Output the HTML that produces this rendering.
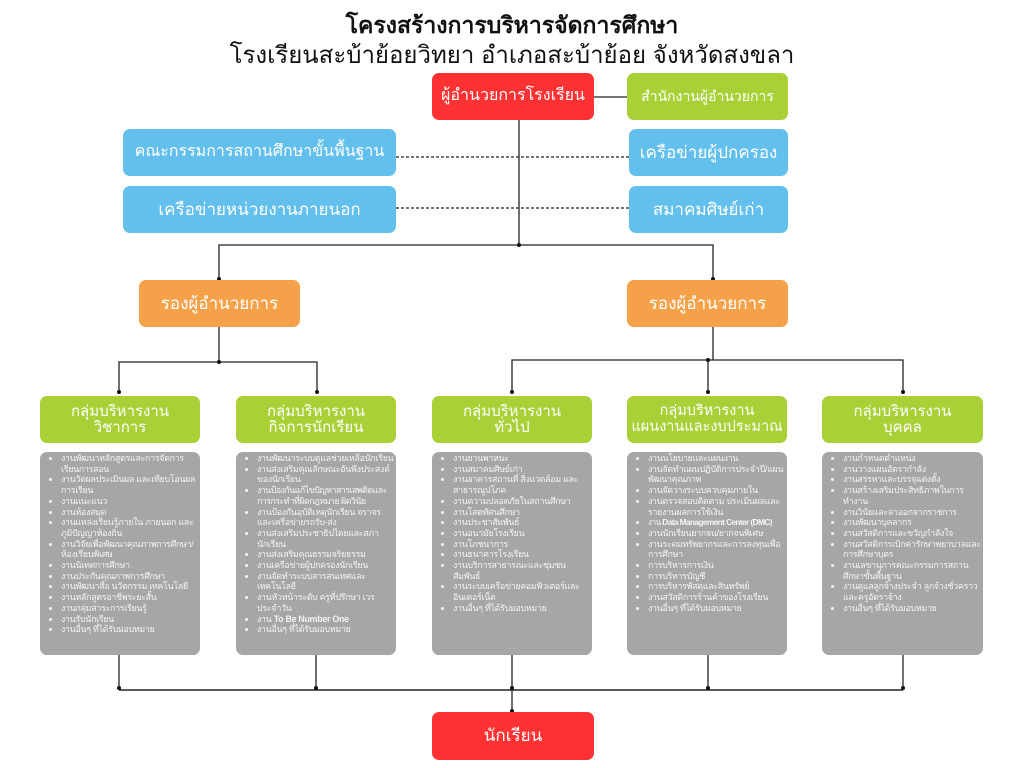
<!DOCTYPE html>
<html><head><meta charset="utf-8"><style>
*{margin:0;padding:0;box-sizing:border-box}
body{width:1024px;height:768px;background:#fff;position:relative;overflow:hidden;font-family:"Liberation Sans","DejaVu Sans",sans-serif}
.b{position:absolute;display:flex;align-items:center;justify-content:center;text-align:center;color:#fff;border-radius:7px;line-height:1.05}
.red{background:#fe3233}.grn{background:#a9d137}.blu{background:#63bfeb}.org{background:#f4a14a}
.g{position:absolute;background:#a6a6a6;border-radius:7px;color:#f4f4f4;font-size:8.8px;line-height:10.7px;padding:1px 2px 0 3px;letter-spacing:-0.25px}
.g ul{list-style:none}
.g li{position:relative;padding-left:18px}
.g li:before{content:"";position:absolute;left:6px;top:4px;width:3px;height:3px;border-radius:50%;background:#f2f2f2}
.t{position:absolute;left:0;width:1024px;text-align:center;color:#111}
</style></head><body>
<div class="t" style="top:8px;font-size:23px;font-weight:bold">โครงสร้างการบริหารจัดการศึกษา</div>
<div class="t" style="top:35px;font-size:24px">โรงเรียนสะบ้าย้อยวิทยา อำเภอสะบ้าย้อย จังหวัดสงขลา</div>
<svg width="1024" height="768" style="position:absolute;left:0;top:0">
<g stroke="#222" stroke-width="1.3" fill="none">
<line x1="594" y1="97" x2="627" y2="97" stroke="#777" stroke-width="2"/>
<line x1="396" y1="157" x2="629" y2="157" stroke-dasharray="3,2"/>
<line x1="396" y1="208" x2="629" y2="208" stroke-dasharray="3,2"/>
<line x1="519" y1="120" x2="519" y2="245"/>
<polyline points="219,280 219,245 713,245 713,280"/>
<line x1="219" y1="327" x2="219" y2="362"/>
<polyline points="119,393 119,362 317,362 317,393"/>
<line x1="713" y1="327" x2="713" y2="360"/>
<polyline points="512,393 512,360 903,360 903,393"/>
<line x1="708" y1="360" x2="708" y2="393"/>
<line x1="119" y1="690" x2="903" y2="690" stroke-width="1.6"/>
<line x1="119" y1="655" x2="119" y2="690"/><line x1="316" y1="655" x2="316" y2="690"/>
<line x1="512" y1="655" x2="512" y2="712"/><line x1="708" y1="655" x2="708" y2="690"/>
<line x1="903" y1="655" x2="903" y2="690"/>
</g>
<g fill="#111">
<circle cx="519" cy="245" r="2"/><circle cx="219" cy="279" r="2"/><circle cx="713" cy="279" r="2"/>
<circle cx="219" cy="362" r="2"/><circle cx="119" cy="392" r="2"/><circle cx="317" cy="392" r="2"/>
<circle cx="708" cy="360" r="2"/><circle cx="512" cy="392" r="2"/><circle cx="708" cy="392" r="2"/><circle cx="903" cy="392" r="2"/>
<circle cx="119" cy="688" r="2"/><circle cx="316" cy="688" r="2"/><circle cx="512" cy="688" r="2"/><circle cx="708" cy="688" r="2"/><circle cx="903" cy="688" r="2"/><circle cx="512" cy="711" r="2"/>
</g></svg>
<div class="b red" style="left:432px;top:73px;width:162px;height:47px;font-size:16px">ผู้อำนวยการโรงเรียน</div>
<div class="b grn" style="left:627px;top:73px;width:161px;height:47px;font-size:14px">สำนักงานผู้อำนวยการ</div>
<div class="b blu" style="left:123px;top:129px;width:273px;height:47px;font-size:16px">คณะกรรมการสถานศึกษาขั้นพื้นฐาน</div>
<div class="b blu" style="left:123px;top:186px;width:273px;height:47px;font-size:17px">เครือข่ายหน่วยงานภายนอก</div>
<div class="b blu" style="left:629px;top:129px;width:159px;height:47px;font-size:17px">เครือข่ายผู้ปกครอง</div>
<div class="b blu" style="left:629px;top:186px;width:159px;height:47px;font-size:17px">สมาคมศิษย์เก่า</div>
<div class="b org" style="left:139px;top:280px;width:161px;height:47px;font-size:17px">รองผู้อำนวยการ</div>
<div class="b org" style="left:627px;top:280px;width:161px;height:47px;font-size:17px">รองผู้อำนวยการ</div>
<div class="b grn" style="left:40px;top:396px;width:160px;height:47px;font-size:15px">กลุ่มบริหารงาน<br>วิชาการ</div>
<div class="b grn" style="left:236px;top:396px;width:160px;height:47px;font-size:15px">กลุ่มบริหารงาน<br>กิจการนักเรียน</div>
<div class="b grn" style="left:432px;top:396px;width:160px;height:47px;font-size:15px">กลุ่มบริหารงาน<br>ทั่วไป</div>
<div class="b grn" style="left:627px;top:396px;width:160px;height:47px;font-size:14.5px">กลุ่มบริหารงาน<br>แผนงานและงบประมาณ</div>
<div class="b grn" style="left:822px;top:396px;width:161px;height:47px;font-size:15px">กลุ่มบริหารงาน<br>บุคคล</div>
<div class="g" style="left:40px;top:452px;width:160px;height:203px"><ul>
<li>งานพัฒนาหลักสูตรและการจัดการเรียนการสอน</li><li>งานวัดผลประเมินผล และเทียบโอนผลการเรียน</li><li>งานแนะแนว</li><li>งานห้องสมุด</li><li>งานแหล่งเรียนรู้ภายใน ภายนอก และภูมิปัญญาท้องถิ่น</li><li>งานวิจัยเพื่อพัฒนาคุณภาพการศึกษา/ห้องเรียนพิเศษ</li><li>งานนิเทศการศึกษา</li><li>งานประกันคุณภาพการศึกษา</li><li>งานพัฒนาสื่อ นวัตกรรม เทคโนโลยี</li><li>งานหลักสูตรอาชีพระยะสั้น</li><li>งานกลุ่มสาระการเรียนรู้</li><li>งานรับนักเรียน</li><li>งานอื่นๆ ที่ได้รับมอบหมาย</li></ul></div>
<div class="g" style="left:236px;top:452px;width:160px;height:203px"><ul>
<li>งานพัฒนาระบบดูแลช่วยเหลือนักเรียน</li><li>งานส่งเสริมคุณลักษณะอันพึงประสงค์ของนักเรียน</li><li style="letter-spacing:-0.5px">งานป้องกันแก้ไขปัญหาสารเสพติดและการกระทำที่ผิดกฎหมาย ผิดวินัย</li><li>งานป้องกันอุบัติเหตุนักเรียน จราจรและเครือข่ายรถรับ-ส่ง</li><li>งานส่งเสริมประชาธิปไตยและสภานักเรียน</li><li>งานส่งเสริมคุณธรรมจริยธรรม</li><li>งานเครือข่ายผู้ปกครองนักเรียน</li><li>งานจัดทำระบบสารสนเทศและเทคโนโลยี</li><li>งานหัวหน้าระดับ ครูที่ปรึกษา เวรประจำวัน</li><li>งาน <b>To Be Number One</b></li><li>งานอื่นๆ ที่ได้รับมอบหมาย</li></ul></div>
<div class="g" style="left:432px;top:452px;width:160px;height:203px"><ul>
<li>งานยานพาหนะ</li><li>งานสมาคมศิษย์เก่า</li><li>งานอาคารสถานที่ สิ่งแวดล้อม และสาธารณูปโภค</li><li>งานความปลอดภัยในสถานศึกษา</li><li>งานโสตทัศนศึกษา</li><li>งานประชาสัมพันธ์</li><li>งานอนามัยโรงเรียน</li><li>งานโภชนาการ</li><li>งานธนาคารโรงเรียน</li><li>งานบริการสาธารณะและชุมชนสัมพันธ์</li><li>งานระบบเครือข่ายคอมพิวเตอร์และอินเตอร์เน็ต</li><li>งานอื่นๆ ที่ได้รับมอบหมาย</li></ul></div>
<div class="g" style="left:627px;top:452px;width:160px;height:203px"><ul>
<li>งานนโยบายและแผนงาน</li><li>งานจัดทำแผนปฏิบัติการประจำปี/แผนพัฒนาคุณภาพ</li><li>งานจัดวางระบบควบคุมภายใน</li><li>งานตรวจสอบติดตาม ประเมินผลและรายงานผลการใช้เงิน</li><li style="white-space:nowrap;letter-spacing:-0.6px;font-size:8.3px">งาน <b>Data Management Center (DMC)</b></li><li>งานนักเรียนยากจน/ยากจนพิเศษ</li><li>งานระดมทรัพยากรและการลงทุนเพื่อการศึกษา</li><li>การบริหารการเงิน</li><li>การบริหารบัญชี</li><li>การบริหารพัสดุและสินทรัพย์</li><li>งานสวัสดิการร้านค้าของโรงเรียน</li><li>งานอื่นๆ ที่ได้รับมอบหมาย</li></ul></div>
<div class="g" style="left:822px;top:452px;width:161px;height:203px"><ul>
<li>งานกำหนดตำแหน่ง</li><li>งานวางแผนอัตรากำลัง</li><li>งานสรรหาและบรรจุแต่งตั้ง</li><li>งานสร้างเสริมประสิทธิภาพในการทำงาน</li><li>งานวินัยและลาออกจากราชการ</li><li>งานพัฒนาบุคลากร</li><li>งานสวัสดิการและขวัญกำลังใจ</li><li>งานสวัสดิการเบิกค่ารักษาพยาบาลและการศึกษาบุตร</li><li>งานเลขานุการคณะกรรมการสถานศึกษาขั้นพื้นฐาน</li><li>งานดูแลลูกจ้างประจำ ลูกจ้างชั่วคราวและครูอัตราจ้าง</li><li>งานอื่นๆ ที่ได้รับมอบหมาย</li></ul></div>
<div class="b red" style="left:432px;top:712px;width:162px;height:48px;font-size:17px">นักเรียน</div>
</body></html>
